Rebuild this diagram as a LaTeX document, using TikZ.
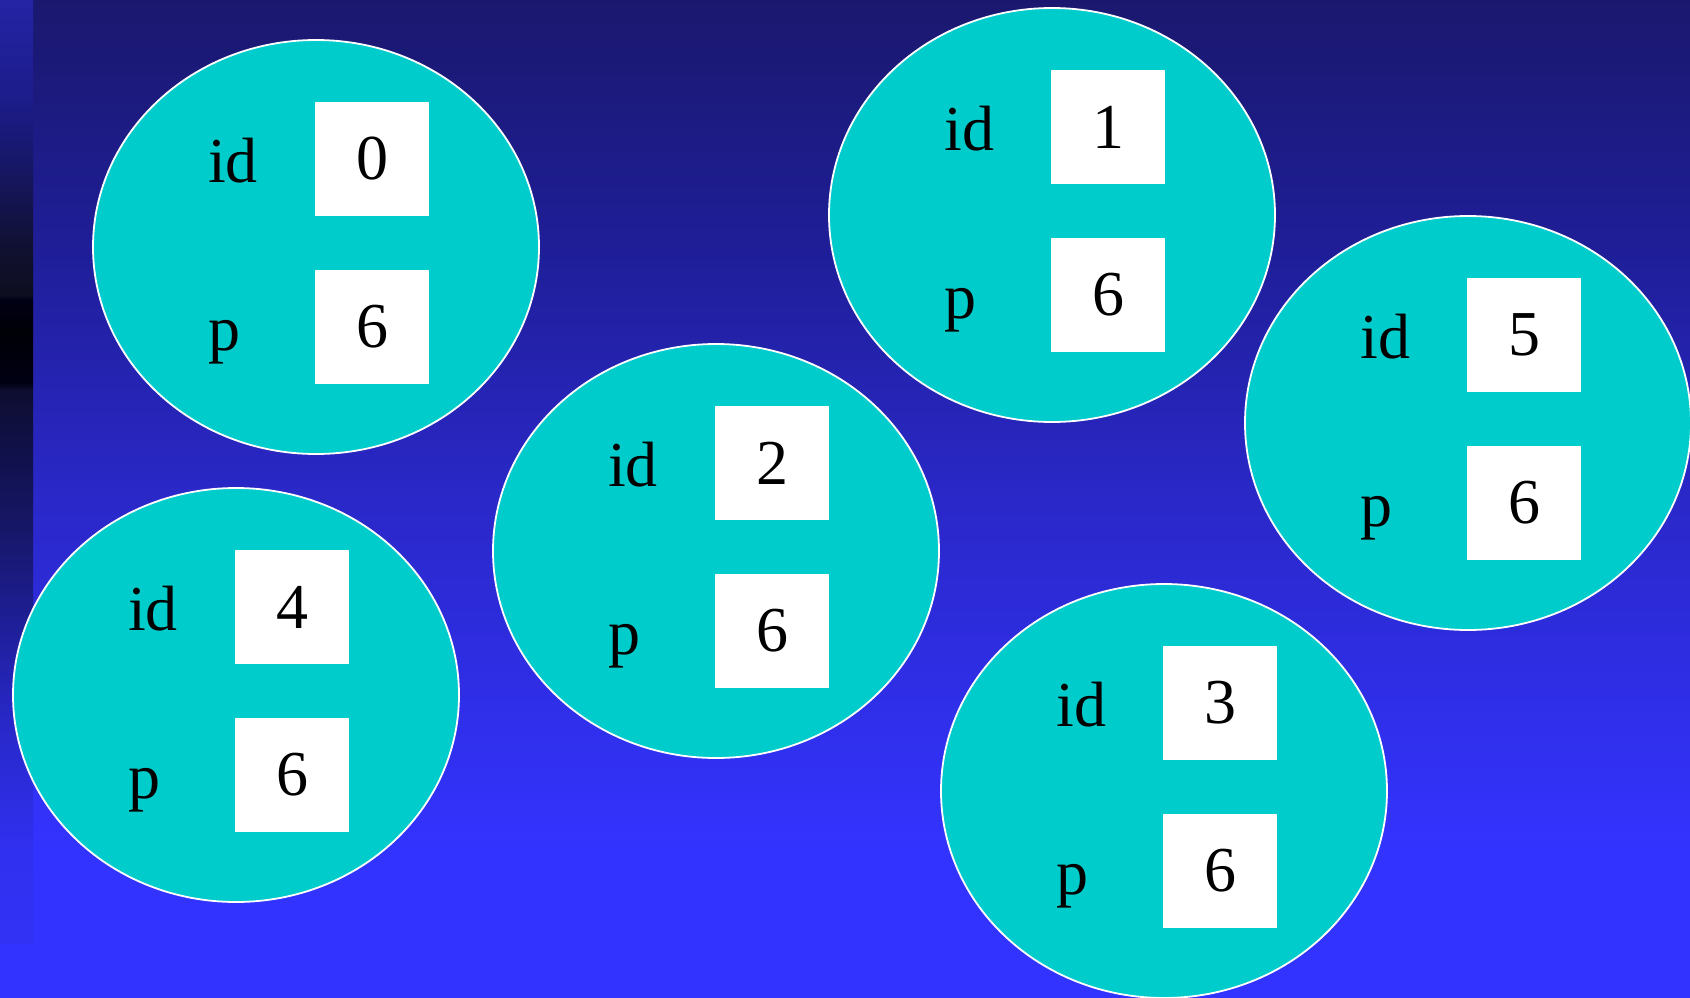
\documentclass[tikz,border=0pt]{standalone}
\usepackage{fontspec}
\setmainfont{Liberation Serif}
\usetikzlibrary{shapes.geometric}
\definecolor{bgA}{RGB}{26,24,110}
\definecolor{bgB}{RGB}{31,30,152}
\definecolor{bgC}{RGB}{42,40,200}
\definecolor{bgD}{RGB}{51,51,255}
\definecolor{s00}{RGB}{36,36,165}
\definecolor{s01}{RGB}{28,28,138}
\definecolor{s02}{RGB}{24,24,112}
\definecolor{s03}{RGB}{20,20,80}
\definecolor{s04}{RGB}{16,16,48}
\definecolor{s05}{RGB}{14,14,32}
\definecolor{s06}{RGB}{0,0,20}
\definecolor{s07}{RGB}{0,0,6}
\definecolor{s08}{RGB}{0,0,20}
\definecolor{s09}{RGB}{14,14,48}
\definecolor{s10}{RGB}{16,16,74}
\definecolor{s11}{RGB}{22,22,100}
\definecolor{s12}{RGB}{30,30,150}
\definecolor{s13}{RGB}{40,40,200}
\definecolor{s14}{RGB}{48,48,240}
\definecolor{s15}{RGB}{50,50,245}
\definecolor{cell}{RGB}{0,204,204}
\pgfdeclareverticalshading{bgshade}{100bp}{color(0bp)=(bgD); color(25bp)=(bgD); color(32.5bp)=(bgD); color(50bp)=(bgC); color(62.5bp)=(bgB); color(75bp)=(bgA); color(100bp)=(bgA)}
\pgfdeclareverticalshading{stripshade}{100bp}{color(0bp)=(s15); color(25bp)=(s15); color(29.95bp)=(s14); color(36.8bp)=(s13); color(42.15bp)=(s12); color(47.45bp)=(s11); color(51.15bp)=(s10); color(54.3bp)=(s09); color(54.7bp)=(s08); color(57.25bp)=(s07); color(59.1bp)=(s06); color(59.35bp)=(s05); color(61.75bp)=(s04); color(64.4bp)=(s03); color(67.05bp)=(s02); color(69.7bp)=(s01); color(75bp)=(s00); color(100bp)=(s00)}
\tikzset{
  proc/.style={ellipse, draw=white, line width=1.8pt, fill=cell, minimum width=446, minimum height=414, inner sep=0pt},
  valbox/.style={rectangle, fill=white, minimum width=114, minimum height=114, inner sep=0pt, font=\fontsize{64}{70}\selectfont, text=black},
  lbl/.style={anchor=base west, inner sep=0pt, font=\fontsize{64}{70}\selectfont, text=black}
}
\begin{document}
\begin{tikzpicture}[x=1pt,y=1pt]
\useasboundingbox (0,0) rectangle (1690,-998);
\clip (0,0) rectangle (1690,-998);
\shade[shading=bgshade] (0,0) rectangle (1690,-998);
\shade[shading=stripshade] (0,0) rectangle (33,-943);
\foreach \n/\cx/\cy/\v in {0/316/-247/0, 1/1052/-215/1, 5/1468/-423/5, 2/716/-551/2, 4/236/-695/4, 3/1164/-791/3}{
  \node[proc] (e\n) at (\cx,\cy) {};
  \node[valbox] (e\n id) at (\cx+56,\cy+88) {\v};
  \node[valbox] (e\n p) at (\cx+56,\cy-80) {6};
  \node[lbl] (e\n idl) at (\cx-108,\cy+65) {id};
  \node[lbl] (e\n pl) at (\cx-108,\cy-103) {p};
}
\end{tikzpicture}
\end{document}
